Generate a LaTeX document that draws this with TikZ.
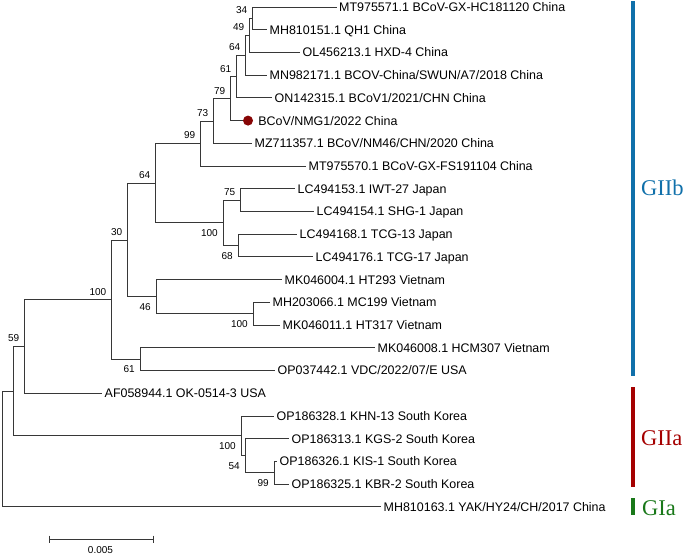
\documentclass[tikz,border=0pt]{standalone}
\usepackage{fontspec}
\setmainfont{Liberation Sans}
\newfontfamily\grpfont{Liberation Serif}
\definecolor{cladeblue}{RGB}{16,112,170}
\definecolor{cladered}{RGB}{165,0,0}
\definecolor{cladegreen}{RGB}{25,120,25}
\definecolor{dotred}{RGB}{135,5,5}
\definecolor{treeline}{RGB}{55,55,55}
\begin{document}
\begin{tikzpicture}[x=1pt,y=-1pt,
  br/.style={draw=treeline, line width=0.9pt},
  leaf/.style={anchor=base west, inner sep=0pt, font=\fontsize{12.45}{14}\selectfont, xshift=2.5pt, yshift=-4.4pt},
  supA/.style={anchor=east, inner sep=0pt, font=\fontsize{10}{12}\selectfont, xshift=-4.5pt, yshift=8pt},
  supB/.style={anchor=east, inner sep=0pt, font=\fontsize{10}{12}\selectfont, xshift=-5pt, yshift=-10pt},
  grp/.style={anchor=base west, inner sep=0pt, font=\grpfont\fontsize{22.5}{24}\selectfont},
  bar/.style={line width=4.5pt}]
\useasboundingbox (0,0) rectangle (685,555);
% leaves
\coordinate (L1) at (336.5,7);
\coordinate (L2) at (267,29.7);
\coordinate (L3) at (300,52.4);
\coordinate (L4) at (267,75.2);
\coordinate (L5) at (272,97.9);
\coordinate (L7) at (252,143.3);
\coordinate (L8) at (306,166.0);
\coordinate (L9) at (295,188.8);
\coordinate (L10) at (314,211.5);
\coordinate (L11) at (297,234.2);
\coordinate (L12) at (313,256.9);
\coordinate (L13) at (282,279.6);
\coordinate (L14) at (270,302.4);
\coordinate (L15) at (280,325.1);
\coordinate (L16) at (375,347.8);
\coordinate (L17) at (275,370.5);
\coordinate (L18) at (102,393.2);
\coordinate (L19) at (274,416.0);
\coordinate (L20) at (289,438.7);
\coordinate (L21) at (277,461.4);
\coordinate (L22) at (289,484.1);
\coordinate (L23) at (381,506.8);
\node[circle, fill=dotred, minimum size=10pt, inner sep=0pt] (dot) at (248,120.6) {};
% internal nodes
\coordinate (n34) at (252,18.35);
\coordinate (n49) at (249,35.4);
\coordinate (n64b) at (245,55.3);
\coordinate (n61) at (236,76.6);
\coordinate (n79) at (230,98.6);
\coordinate (n73) at (213,121);
\coordinate (n99) at (200,143.5);
\coordinate (n75) at (240,200.1);
\coordinate (n68) at (238,245.6);
\coordinate (n100J) at (223,222.9);
\coordinate (n64) at (155,183.2);
\coordinate (nV100) at (253,313.7);
\coordinate (n46) at (156,296.7);
\coordinate (n30) at (127,240);
\coordinate (n61b) at (140,359.2);
\coordinate (n100) at (111,299.6);
\coordinate (n59) at (24,346.4);
\coordinate (nK99) at (274,472.8);
\coordinate (nK54) at (245,455.7);
\coordinate (nK100) at (241,435.9);
\coordinate (nA) at (13,391.1);
\coordinate (root) at (2,449);
% branches
\draw[br] (n34) |- (L1);
\draw[br] (n34) |- (L2);
\draw[br] (n49) |- (n34);
\draw[br] (n49) |- (L3);
\draw[br] (n64b) |- (n49);
\draw[br] (n64b) |- (L4);
\draw[br] (n61) |- (n64b);
\draw[br] (n61) |- (L5);
\draw[br] (n79) |- (n61);
\draw[br] (n79) |- (dot.west);
\draw[br] (n73) |- (n79);
\draw[br] (n73) |- (L7);
\draw[br] (n99) |- (n73);
\draw[br] (n99) |- (L8);
\draw[br] (n75) |- (L9);
\draw[br] (n75) |- (L10);
\draw[br] (n68) |- (L11);
\draw[br] (n68) |- (L12);
\draw[br] (n100J) |- (n75);
\draw[br] (n100J) |- (n68);
\draw[br] (n64) |- (n99);
\draw[br] (n64) |- (n100J);
\draw[br] (nV100) |- (L14);
\draw[br] (nV100) |- (L15);
\draw[br] (n46) |- (L13);
\draw[br] (n46) |- (nV100);
\draw[br] (n30) |- (n64);
\draw[br] (n30) |- (n46);
\draw[br] (n61b) |- (L16);
\draw[br] (n61b) |- (L17);
\draw[br] (n100) |- (n30);
\draw[br] (n100) |- (n61b);
\draw[br] (n59) |- (n100);
\draw[br] (n59) |- (L18);
\draw[br] (nK99) |- (L21);
\draw[br] (nK99) |- (L22);
\draw[br] (nK54) |- (L20);
\draw[br] (nK54) |- (nK99);
\draw[br] (nK100) |- (L19);
\draw[br] (nK100) |- (nK54);
\draw[br] (nA) |- (n59);
\draw[br] (nA) |- (nK100);
\draw[br] (root) |- (nA);
\draw[br] (root) |- (L23);
% leaf labels
\node[leaf] (lab1) at (L1) {MT975571.1 BCoV-GX-HC181120 China};
\node[leaf] (lab2) at (L2) {MH810151.1 QH1 China};
\node[leaf] (lab3) at (L3) {OL456213.1 HXD-4 China};
\node[leaf] (lab4) at (L4) {MN982171.1 BCOV-China/SWUN/A7/2018 China};
\node[leaf] (lab5) at (L5) {ON142315.1 BCoV1/2021/CHN China};
\node[leaf, xshift=2.5pt] (lab6) at (dot.east) {BCoV/NMG1/2022 China};
\node[leaf] (lab7) at (L7) {MZ711357.1 BCoV/NM46/CHN/2020 China};
\node[leaf] (lab8) at (L8) {MT975570.1 BCoV-GX-FS191104 China};
\node[leaf] (lab9) at (L9) {LC494153.1 IWT-27 Japan};
\node[leaf] (lab10) at (L10) {LC494154.1 SHG-1 Japan};
\node[leaf] (lab11) at (L11) {LC494168.1 TCG-13 Japan};
\node[leaf] (lab12) at (L12) {LC494176.1 TCG-17 Japan};
\node[leaf] (lab13) at (L13) {MK046004.1 HT293 Vietnam};
\node[leaf] (lab14) at (L14) {MH203066.1 MC199 Vietnam};
\node[leaf] (lab15) at (L15) {MK046011.1 HT317 Vietnam};
\node[leaf] (lab16) at (L16) {MK046008.1 HCM307 Vietnam};
\node[leaf] (lab17) at (L17) {OP037442.1 VDC/2022/07/E USA};
\node[leaf] (lab18) at (L18) {AF058944.1 OK-0514-3 USA};
\node[leaf] (lab19) at (L19) {OP186328.1 KHN-13 South Korea};
\node[leaf] (lab20) at (L20) {OP186313.1 KGS-2 South Korea};
\node[leaf] (lab21) at (L21) {OP186326.1 KIS-1 South Korea};
\node[leaf] (lab22) at (L22) {OP186325.1 KBR-2 South Korea};
\node[leaf] (lab23) at (L23) {MH810163.1 YAK/HY24/CH/2017 China};
% support values
\node[supA] (s34) at (n34) {34};
\node[supA] (s49) at (n49) {49};
\node[supA] (s64b) at (n64b) {64};
\node[supA] (s61) at (n61) {61};
\node[supA] (s79) at (n79) {79};
\node[supA] (s73) at (n73) {73};
\node[supA] (s99) at (n99) {99};
\node[supA] (s64) at (n64) {64};
\node[supA] (s75) at (n75) {75};
\node[supA] (s30) at (n30) {30};
\node[supA] (s100) at (n100) {100};
\node[supA] (s59) at (n59) {59};
\node[supB] (s100J) at (n100J) {100};
\node[supB] (s68) at (n68) {68};
\node[supB] (s46) at (n46) {46};
\node[supB] (sV100) at (nV100) {100};
\node[supB] (s61b) at (n61b) {61};
\node[supB] (sK100) at (nK100) {100};
\node[supB] (sK54) at (nK54) {54};
\node[supB] (sK99) at (nK99) {99};
% scale bar
\coordinate (sb1) at (49,539);
\coordinate (sb2) at (153,539);
\draw[br] (sb1) -- (sb2);
\draw[br] ([yshift=3.5pt]sb1) -- ([yshift=-3.5pt]sb1);
\draw[br] ([yshift=3.5pt]sb2) -- ([yshift=-3.5pt]sb2);
\node[inner sep=0pt, font=\fontsize{10}{12}\selectfont] (sblab) at (100.5,550) {0.005};
% clade bars
\draw[bar, cladeblue] (633,1) -- (633,376);
\draw[bar, cladered] (633,387) -- (633,487);
\draw[bar, cladegreen] (633,498) -- (633,515);
\node[grp, text=cladeblue] (gIIb) at (641,195) {GIIb};
\node[grp, text=cladered] (gIIa) at (641,445) {GIIa};
\node[grp, text=cladegreen] (gIa) at (642,515) {GIa};
\end{tikzpicture}
\end{document}
